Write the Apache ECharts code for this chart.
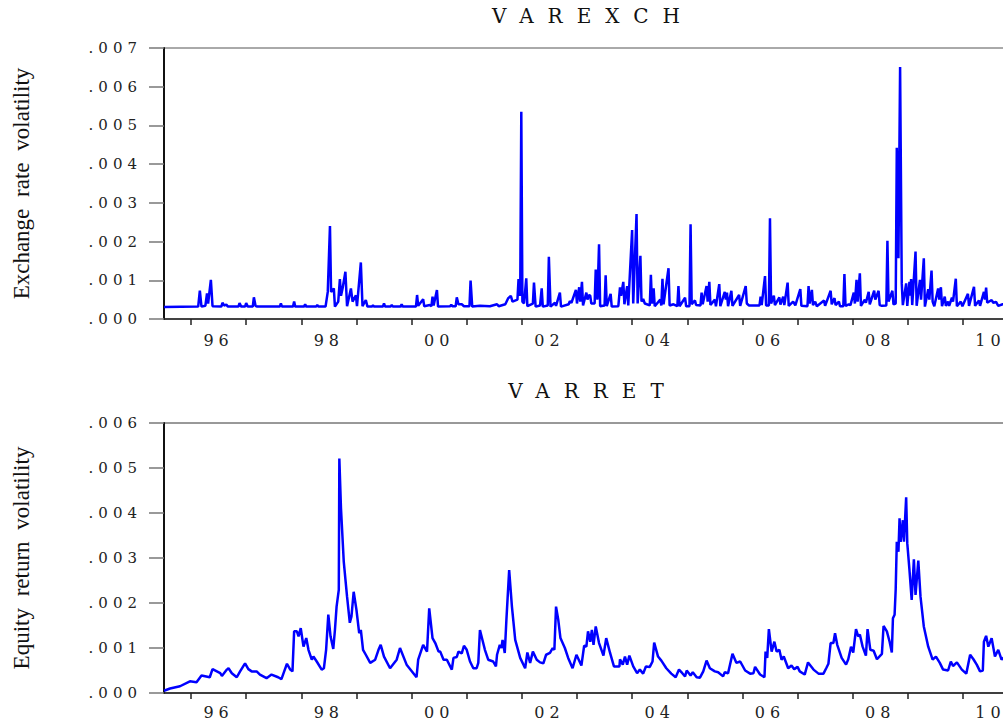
<!DOCTYPE html>
<html>
<head>
<meta charset="utf-8">
<title>VAREXCH / VARRET</title>
<script src="https://cdn.jsdelivr.net/npm/echarts@6.0.0/dist/echarts.min.js"></script>
<style>
  html, body { margin: 0; padding: 0; background: #fff; overflow: hidden; }
  #chart { width: 1003px; height: 721px; }
  /* the original prints its serif labels very wide: space them out */
  #chart text[style*="15px"], #chart text[style*="16px"] { letter-spacing: 5px; }
  #chart text[style*="20px"] { letter-spacing: 14px; }
  #chart text[style*="23px"] { word-spacing: 6px; }
</style>
</head>
<body>
<div id="chart"></div>
<script>
// year boundaries get a tick, every other year gets a label in the middle
const yearTicks = [1996, 1997, 1998, 1999, 2000, 2001, 2002, 2003, 2004, 2005, 2006, 2007, 2008, 2009, 2010];
const labelYears = [1996.5, 1998.5, 2000.5, 2002.5, 2004.5, 2006.5, 2008.5, 2010.5];

// VAREXCH: [decimal year, value]
const exchPts = [
  [1995.51,0.00031],[1996.13,0.00032],[1996.16,0.00073],[1996.19,0.00032],[1996.26,0.00034],[1996.29,0.00066],
  [1996.31,0.00040],[1996.36,0.00101],[1996.39,0.00033],[1996.55,0.00032],[1996.57,0.00042],[1996.60,0.00035],
  [1996.64,0.00037],[1996.67,0.00032],[1996.86,0.00032],[1996.88,0.00041],[1996.91,0.00032],[1996.98,0.00032],
  [1997.00,0.00041],[1997.03,0.00032],[1997.12,0.00032],[1997.14,0.00056],[1997.17,0.00034],[1997.20,0.00032],
  [1997.61,0.00032],[1997.63,0.00040],[1997.65,0.00032],[1997.85,0.00032],[1997.87,0.00045],[1997.89,0.00032],
  [1998.05,0.00032],[1998.07,0.00038],[1998.09,0.00032],[1998.27,0.00032],[1998.29,0.00036],[1998.31,0.00032],
  [1998.44,0.00032],[1998.48,0.00070],[1998.52,0.00240],[1998.54,0.00070],[1998.59,0.00079],[1998.61,0.00032],
  [1998.67,0.00045],[1998.70,0.00103],[1998.72,0.00060],[1998.75,0.00080],[1998.80,0.00122],[1998.83,0.00033],
  [1998.90,0.00079],[1998.93,0.00045],[1998.99,0.00061],[1999.01,0.00033],[1999.08,0.00146],[1999.11,0.00033],
  [1999.17,0.00049],[1999.20,0.00032],[1999.28,0.00032],[1999.30,0.00035],[1999.32,0.00032],[1999.48,0.00032],
  [1999.50,0.00040],[1999.52,0.00032],[1999.62,0.00032],[1999.64,0.00036],[1999.66,0.00032],[1999.80,0.00032],
  [1999.82,0.00038],[1999.84,0.00032],[2000.08,0.00032],[2000.10,0.00062],[2000.12,0.00034],[2000.21,0.00051],
  [2000.23,0.00033],[2000.33,0.00036],[2000.36,0.00033],[2000.38,0.00058],[2000.40,0.00035],[2000.46,0.00075],
  [2000.48,0.00032],[2000.70,0.00033],[2000.72,0.00037],[2000.74,0.00033],[2000.80,0.00033],[2000.82,0.00056],
  [2000.85,0.00038],[2000.91,0.00038],[2000.95,0.00033],[2001.05,0.00033],[2001.07,0.00099],[2001.10,0.00032],
  [2001.24,0.00034],[2001.42,0.00033],[2001.55,0.00038],[2001.58,0.00033],[2001.70,0.00038],[2001.75,0.00053],
  [2001.80,0.00060],[2001.83,0.00045],[2001.92,0.00050],[2001.94,0.00103],[2001.97,0.00060],[2001.99,0.00535],
  [2002.01,0.00045],[2002.04,0.00040],[2002.08,0.00105],[2002.10,0.00033],[2002.20,0.00040],[2002.22,0.00094],
  [2002.25,0.00032],[2002.33,0.00035],[2002.36,0.00079],[2002.38,0.00032],[2002.47,0.00035],[2002.49,0.00161],
  [2002.52,0.00032],[2002.60,0.00042],[2002.62,0.00034],[2002.69,0.00068],[2002.71,0.00032],[2002.85,0.00038],
  [2002.87,0.00046],[2002.90,0.00042],[2002.98,0.00075],[2003.00,0.00040],[2003.04,0.00082],[2003.06,0.00045],
  [2003.09,0.00096],[2003.11,0.00035],[2003.17,0.00068],[2003.19,0.00050],[2003.22,0.00062],[2003.24,0.00060],
  [2003.26,0.00040],[2003.32,0.00040],[2003.34,0.00128],[2003.37,0.00050],[2003.40,0.00193],[2003.42,0.00033],
  [2003.50,0.00035],[2003.52,0.00113],[2003.54,0.00033],[2003.61,0.00065],[2003.63,0.00032],[2003.75,0.00033],
  [2003.78,0.00082],[2003.80,0.00060],[2003.84,0.00096],[2003.86,0.00038],[2003.91,0.00085],[2003.93,0.00035],
  [2004.00,0.00230],[2004.02,0.00040],[2004.08,0.00271],[2004.10,0.00040],[2004.15,0.00163],[2004.17,0.00045],
  [2004.20,0.00052],[2004.23,0.00040],[2004.32,0.00035],[2004.34,0.00114],[2004.36,0.00040],[2004.39,0.00079],
  [2004.41,0.00033],[2004.51,0.00050],[2004.53,0.00035],[2004.55,0.00104],[2004.57,0.00038],[2004.66,0.00131],
  [2004.68,0.00035],[2004.75,0.00038],[2004.82,0.00033],[2004.84,0.00085],[2004.86,0.00033],[2004.96,0.00055],
  [2004.98,0.00033],[2005.04,0.00033],[2005.06,0.00245],[2005.08,0.00038],[2005.14,0.00048],[2005.16,0.00036],
  [2005.24,0.00035],[2005.26,0.00068],[2005.28,0.00038],[2005.35,0.00085],[2005.37,0.00045],[2005.40,0.00096],
  [2005.42,0.00036],[2005.50,0.00050],[2005.52,0.00033],[2005.58,0.00090],[2005.60,0.00033],[2005.68,0.00070],
  [2005.70,0.00050],[2005.72,0.00068],[2005.74,0.00033],[2005.80,0.00073],[2005.82,0.00034],[2005.94,0.00062],
  [2005.96,0.00034],[2006.06,0.00085],[2006.08,0.00040],[2006.12,0.00035],[2006.31,0.00035],[2006.33,0.00058],
  [2006.35,0.00036],[2006.41,0.00111],[2006.43,0.00035],[2006.48,0.00035],[2006.50,0.00260],[2006.52,0.00040],
  [2006.57,0.00060],[2006.59,0.00036],[2006.67,0.00056],[2006.69,0.00037],[2006.74,0.00058],[2006.76,0.00036],
  [2006.82,0.00094],[2006.84,0.00034],[2006.92,0.00045],[2006.96,0.00035],[2007.05,0.00077],[2007.07,0.00034],
  [2007.18,0.00033],[2007.20,0.00085],[2007.22,0.00040],[2007.26,0.00075],[2007.28,0.00036],[2007.32,0.00045],
  [2007.35,0.00033],[2007.48,0.00048],[2007.50,0.00034],[2007.60,0.00073],[2007.62,0.00038],[2007.67,0.00054],
  [2007.69,0.00036],[2007.75,0.00045],[2007.77,0.00033],[2007.83,0.00033],[2007.85,0.00116],[2007.87,0.00034],
  [2007.93,0.00038],[2007.96,0.00036],[2008.02,0.00068],[2008.04,0.00040],[2008.07,0.00101],[2008.09,0.00045],
  [2008.13,0.00118],[2008.15,0.00034],[2008.22,0.00050],[2008.24,0.00042],[2008.29,0.00070],[2008.31,0.00038],
  [2008.39,0.00073],[2008.41,0.00050],[2008.47,0.00073],[2008.49,0.00036],[2008.53,0.00034],[2008.61,0.00035],
  [2008.63,0.00202],[2008.65,0.00045],[2008.72,0.00073],[2008.74,0.00038],[2008.78,0.00040],[2008.80,0.00442],
  [2008.83,0.00157],[2008.86,0.00651],[2008.89,0.00092],[2008.91,0.00036],[2008.97,0.00092],[2008.99,0.00034],
  [2009.03,0.00096],[2009.04,0.00060],[2009.06,0.00103],[2009.08,0.00036],[2009.14,0.00174],[2009.16,0.00034],
  [2009.22,0.00101],[2009.24,0.00050],[2009.29,0.00157],[2009.31,0.00032],[2009.37,0.00077],[2009.39,0.00050],
  [2009.43,0.00125],[2009.45,0.00045],[2009.48,0.00033],[2009.55,0.00079],[2009.57,0.00050],[2009.60,0.00082],
  [2009.62,0.00033],[2009.67,0.00058],[2009.69,0.00034],[2009.73,0.00045],[2009.75,0.00034],[2009.80,0.00055],
  [2009.82,0.00045],[2009.87,0.00104],[2009.89,0.00033],[2009.96,0.00045],[2009.99,0.00033],[2010.09,0.00065],
  [2010.11,0.00034],[2010.20,0.00083],[2010.22,0.00034],[2010.29,0.00048],[2010.31,0.00034],[2010.38,0.00070],
  [2010.40,0.00050],[2010.42,0.00081],[2010.44,0.00042],[2010.52,0.00049],[2010.55,0.00042],[2010.60,0.00044],
  [2010.64,0.00034],[2010.72,0.00038],[2010.84,0.00036]
];

// VARRET: [decimal year, value]
const retPts = [
  [1995.51,0.00005],[1995.62,0.00010],[1995.80,0.00015],[1995.98,0.00026],[1996.10,0.00024],[1996.19,0.00039],
  [1996.34,0.00035],[1996.39,0.00053],[1996.53,0.00044],[1996.56,0.00038],[1996.65,0.00052],[1996.68,0.00055],
  [1996.74,0.00044],[1996.83,0.00035],[1996.89,0.00048],[1996.98,0.00066],[1997.04,0.00053],[1997.10,0.00048],
  [1997.19,0.00048],[1997.25,0.00041],[1997.37,0.00033],[1997.46,0.00041],[1997.58,0.00035],[1997.64,0.00031],
  [1997.69,0.00048],[1997.74,0.00065],[1997.80,0.00052],[1997.84,0.00048],[1997.87,0.00137],[1997.92,0.00137],
  [1997.95,0.00126],[1997.99,0.00144],[1998.04,0.00103],[1998.09,0.00122],[1998.13,0.00096],[1998.19,0.00074],
  [1998.22,0.00081],[1998.28,0.00070],[1998.37,0.00052],[1998.41,0.00055],[1998.45,0.00096],[1998.49,0.00174],
  [1998.53,0.00126],[1998.58,0.00098],[1998.61,0.00140],[1998.64,0.00192],[1998.68,0.00229],[1998.69,0.00521],
  [1998.72,0.00410],[1998.77,0.00292],[1998.83,0.00214],[1998.88,0.00156],[1998.91,0.00170],[1998.95,0.00225],
  [1999.00,0.00185],[1999.05,0.00133],[1999.08,0.00140],[1999.12,0.00096],[1999.17,0.00085],[1999.25,0.00067],
  [1999.34,0.00074],[1999.40,0.00096],[1999.44,0.00107],[1999.50,0.00081],[1999.61,0.00055],[1999.73,0.00074],
  [1999.79,0.00100],[1999.91,0.00063],[2000.09,0.00035],[2000.12,0.00074],[2000.21,0.00107],[2000.28,0.00092],
  [2000.32,0.00188],[2000.38,0.00122],[2000.43,0.00111],[2000.49,0.00092],[2000.52,0.00092],[2000.58,0.00074],
  [2000.64,0.00074],[2000.73,0.00052],[2000.76,0.00078],[2000.82,0.00080],[2000.85,0.00092],[2000.91,0.00088],
  [2000.95,0.00105],[2001.00,0.00096],[2001.06,0.00070],[2001.12,0.00055],[2001.18,0.00055],[2001.21,0.00067],
  [2001.24,0.00140],[2001.33,0.00096],[2001.39,0.00074],[2001.48,0.00070],[2001.53,0.00059],[2001.55,0.00085],
  [2001.60,0.00107],[2001.63,0.00100],[2001.65,0.00118],[2001.69,0.00089],[2001.72,0.00163],[2001.77,0.00273],
  [2001.82,0.00192],[2001.88,0.00118],[2001.97,0.00078],[2002.06,0.00055],[2002.10,0.00090],[2002.15,0.00067],
  [2002.20,0.00092],[2002.27,0.00074],[2002.33,0.00068],[2002.39,0.00066],[2002.44,0.00085],[2002.51,0.00089],
  [2002.56,0.00100],[2002.59,0.00096],[2002.62,0.00192],[2002.66,0.00163],[2002.70,0.00122],[2002.78,0.00100],
  [2002.84,0.00078],[2002.92,0.00055],[2002.99,0.00085],[2003.08,0.00061],[2003.13,0.00105],[2003.17,0.00103],
  [2003.20,0.00137],[2003.24,0.00114],[2003.27,0.00140],[2003.30,0.00107],[2003.34,0.00148],[2003.40,0.00111],
  [2003.48,0.00083],[2003.53,0.00122],[2003.60,0.00089],[2003.67,0.00059],[2003.77,0.00059],[2003.78,0.00075],
  [2003.83,0.00063],[2003.87,0.00081],[2003.91,0.00063],[2003.95,0.00083],[2004.02,0.00059],[2004.09,0.00044],
  [2004.14,0.00052],[2004.20,0.00043],[2004.25,0.00059],[2004.32,0.00058],[2004.37,0.00070],[2004.40,0.00112],
  [2004.47,0.00081],[2004.53,0.00072],[2004.62,0.00055],[2004.71,0.00043],[2004.79,0.00035],[2004.85,0.00052],
  [2004.91,0.00044],[2004.96,0.00037],[2004.99,0.00050],[2005.06,0.00039],[2005.10,0.00046],[2005.17,0.00035],
  [2005.23,0.00034],[2005.29,0.00048],[2005.35,0.00072],[2005.41,0.00055],[2005.50,0.00048],[2005.56,0.00046],
  [2005.65,0.00037],[2005.68,0.00046],[2005.74,0.00044],[2005.82,0.00087],[2005.89,0.00067],[2005.96,0.00070],
  [2006.05,0.00050],[2006.14,0.00043],[2006.20,0.00044],[2006.23,0.00058],[2006.32,0.00041],[2006.40,0.00035],
  [2006.42,0.00092],[2006.45,0.00078],[2006.48,0.00142],[2006.53,0.00092],[2006.58,0.00114],[2006.62,0.00092],
  [2006.67,0.00096],[2006.71,0.00074],[2006.75,0.00081],[2006.83,0.00055],[2006.89,0.00061],[2006.94,0.00053],
  [2007.00,0.00058],[2007.04,0.00048],[2007.13,0.00041],[2007.19,0.00068],[2007.29,0.00052],[2007.38,0.00043],
  [2007.47,0.00043],[2007.52,0.00055],[2007.56,0.00065],[2007.60,0.00111],[2007.65,0.00111],[2007.68,0.00133],
  [2007.72,0.00107],[2007.80,0.00078],[2007.88,0.00063],[2007.92,0.00075],[2007.97,0.00103],[2008.01,0.00090],
  [2008.06,0.00142],[2008.10,0.00126],[2008.13,0.00130],[2008.18,0.00103],[2008.24,0.00083],[2008.27,0.00142],
  [2008.32,0.00096],[2008.38,0.00094],[2008.44,0.00075],[2008.53,0.00087],[2008.56,0.00149],[2008.62,0.00137],
  [2008.67,0.00114],[2008.71,0.00090],[2008.73,0.00166],[2008.76,0.00174],[2008.78,0.00230],[2008.80,0.00336],
  [2008.83,0.00314],[2008.85,0.00388],[2008.87,0.00336],[2008.91,0.00384],[2008.93,0.00336],[2008.97,0.00435],
  [2008.99,0.00333],[2009.03,0.00273],[2009.07,0.00207],[2009.11,0.00297],[2009.14,0.00218],[2009.19,0.00294],
  [2009.23,0.00214],[2009.29,0.00148],[2009.37,0.00103],[2009.45,0.00074],[2009.51,0.00081],[2009.58,0.00067],
  [2009.64,0.00052],[2009.73,0.00050],[2009.78,0.00070],[2009.82,0.00060],[2009.89,0.00068],[2009.98,0.00052],
  [2010.06,0.00043],[2010.13,0.00085],[2010.19,0.00075],[2010.25,0.00063],[2010.31,0.00048],[2010.36,0.00050],
  [2010.38,0.00114],[2010.42,0.00127],[2010.46,0.00103],[2010.52,0.00122],[2010.58,0.00081],[2010.64,0.00096],
  [2010.70,0.00074],[2010.75,0.00080]
];

const X_MIN = 1995.51;
const X_MAX = 2010.835;   // the plot runs a little past the right edge of the window
const PLOT_W = 845;

function timeAxis(gridIndex, labelMargin) {
  return {
    type: 'value',
    gridIndex: gridIndex,
    min: X_MIN,
    max: X_MAX,
    axisLine: { show: true, onZero: false, lineStyle: { color: '#222', width: 1.5 } },
    axisTick: { show: true, customValues: yearTicks, length: 6, lineStyle: { color: '#222', width: 1.5 } },
    axisLabel: {
      customValues: labelYears,
      margin: labelMargin,
      fontFamily: 'DejaVu Serif',
      fontSize: 16,
      color: '#222',
      formatter: v => String(Math.floor(v + 1e-6)).slice(2)
    },
    splitLine: { show: false }
  };
}

function volAxis(gridIndex, max, name) {
  return {
    type: 'value',
    gridIndex: gridIndex,
    min: 0,
    max: max,
    interval: 0.001,
    name: name,
    nameLocation: 'middle',
    nameRotate: 90,
    nameGap: 131,
    nameTextStyle: { fontFamily: 'Liberation Serif', fontSize: 23, color: '#111' },
    axisLine: { show: true, lineStyle: { color: '#111', width: 2 } },
    axisTick: { show: true, length: 15, lineStyle: { color: '#777', width: 1.5 } },
    axisLabel: {
      margin: 22,
      fontFamily: 'DejaVu Serif',
      fontSize: 15,
      color: '#222',
      formatter: v => v.toFixed(3).replace(/^0/, '')
    },
    splitLine: { show: false }
  };
}

const titleStyle = { fontFamily: 'DejaVu Serif', fontSize: 20, fontWeight: 'normal', color: '#111' };

const chart = echarts.init(document.getElementById('chart'), null, { renderer: 'svg' });
chart.setOption({
  animation: false,
  backgroundColor: '#fff',
  title: [
    { text: 'VAREXCH', left: 593, top: 6, textAlign: 'center', padding: 0, textStyle: titleStyle },
    { text: 'VARRET', left: 593, top: 381, textAlign: 'center', padding: 0, textStyle: titleStyle }
  ],
  grid: [
    { left: 164, top: 48, width: PLOT_W, height: 271, outerBoundsMode: 'none',
      show: true, borderColor: '#555', borderWidth: 1 },
    { left: 164, top: 423, width: PLOT_W, height: 270, outerBoundsMode: 'none',
      show: true, borderColor: '#333', borderWidth: 1 }
  ],
  xAxis: [timeAxis(0, 13), timeAxis(1, 11)],
  yAxis: [
    volAxis(0, 0.007, 'Exchange rate volatility'),
    volAxis(1, 0.006, 'Equity return volatility')
  ],
  series: [
    {
      name: 'VAREXCH', type: 'line', xAxisIndex: 0, yAxisIndex: 0,
      data: exchPts, showSymbol: false,
      lineStyle: { color: '#0000ff', width: 2.5 }, itemStyle: { color: '#0000ff' }
    },
    {
      name: 'VARRET', type: 'line', xAxisIndex: 1, yAxisIndex: 1,
      data: retPts, showSymbol: false,
      lineStyle: { color: '#0000ff', width: 2.5 }, itemStyle: { color: '#0000ff' }
    }
  ]
});
</script>
</body>
</html>
